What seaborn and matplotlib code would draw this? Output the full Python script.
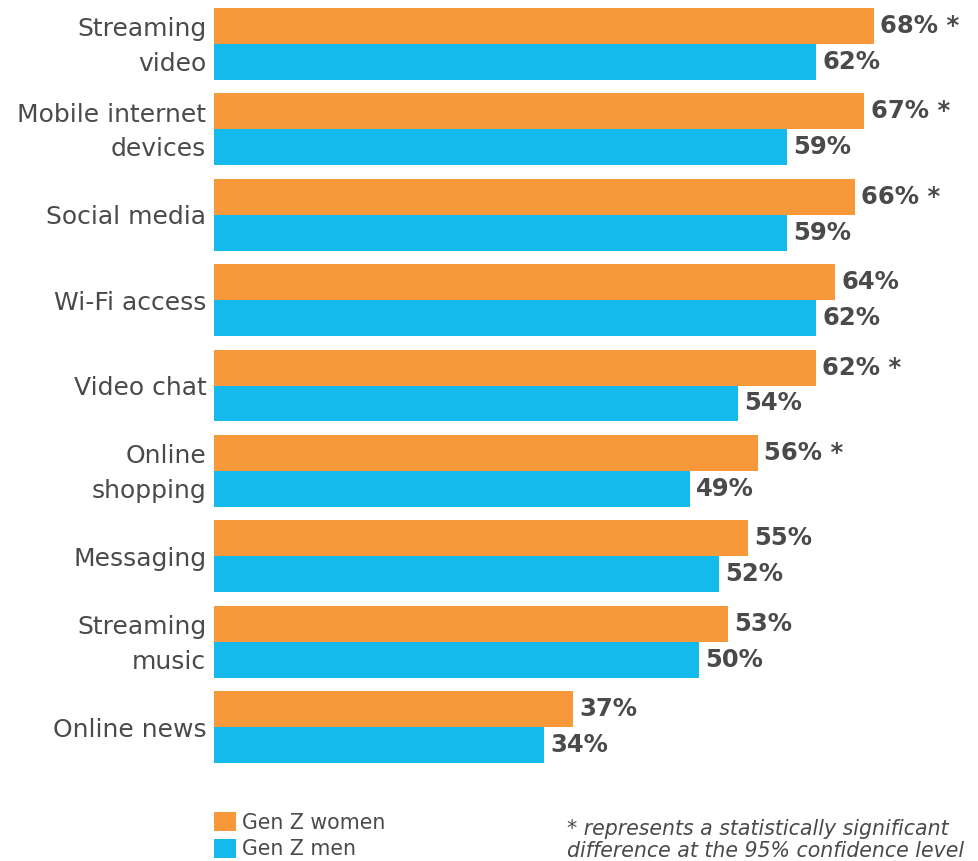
import matplotlib
matplotlib.use("Agg")
import matplotlib.pyplot as plt
import matplotlib.transforms as mtransforms
import seaborn as sns
import pandas as pd
from matplotlib.patches import Patch

categories = ["Streaming\nvideo", "Mobile internet\ndevices", "Social media", "Wi-Fi access",
              "Video chat", "Online\nshopping", "Messaging", "Streaming\nmusic", "Online news"]
women = [68, 67, 66, 64, 62, 56, 55, 53, 37]
men = [62, 59, 59, 62, 54, 49, 52, 50, 34]
significant = [True, True, True, False, True, True, False, False, False]
series = ["Gen Z women", "Gen Z men"]
colors = ["#F7993A", "#15BAEC"]

df = pd.DataFrame({
    "category": categories * 2,
    "value": women + men,
    "series": [series[0]] * len(categories) + [series[1]] * len(categories),
})

sns.set_theme(style="white")
plt.rcParams["font.family"] = ["DejaVu Sans"]

W, H = 979, 861
fig = plt.figure(figsize=(W / 100, H / 100), dpi=100)
left_px, right_px, top_px, bot_px = 214, 979, 8, 763
ax = fig.add_axes([left_px / W, 1 - bot_px / H, (right_px - left_px) / W, (bot_px - top_px) / H])

bw = 0.843
sns.barplot(data=df, y="category", x="value", hue="series", orient="h",
            palette=colors, width=bw, dodge=True, ax=ax, legend=False,
            saturation=1, linewidth=0)

px_per_unit = 9.706
ax.set_xlim(0, (right_px - left_px) / px_per_unit)
ax.set_ylim(len(categories) - 1 + bw / 2, -bw / 2)
for s in ax.spines.values():
    s.set_visible(False)
ax.set_xticks([])
ax.set_xlabel("")
ax.set_ylabel("")
ax.tick_params(axis="y", length=0, pad=5.5)
shift_up = mtransforms.ScaledTranslation(0, 5 / 100, fig.dpi_scale_trans)
for tick in ax.yaxis.get_major_ticks():
    lab = tick.label1
    lab.set_fontsize(18)
    lab.set_color("#4a4a4a")
    lab.set_linespacing(1.55)
    lab.set_ha("right")
    if "\n" in lab.get_text():
        lab.set_transform(lab.get_transform() + shift_up)

labels_sets = [
    [f"{v}% *" if s else f"{v}%" for v, s in zip(women, significant)],
    [f"{v}%" for v in men],
]
for cont, labs in zip(ax.containers, labels_sets):
    ax.bar_label(cont, labels=labs, padding=4.5, fontsize=17.5, fontweight="bold",
                 color="#4a4a4a")

# legend
handles = [Patch(facecolor=c, edgecolor="none") for c in colors]
fig.legend(handles, series, loc="upper left", bbox_to_anchor=(204 / W, 1 - 802 / H),
           frameon=False, fontsize=14.8, handlelength=1.05, handleheight=1.05,
           handletextpad=0.3, labelspacing=0.28, borderpad=0, labelcolor="#4a4a4a")

fig.text(567 / W, 1 - 840 / H, "* represents a statistically significant\ndifference at the 95% confidence level",
         fontsize=14.8, style="italic", color="#4a4a4a", va="center", ha="left", linespacing=1.15)

fig.savefig("out.png", dpi=100)
